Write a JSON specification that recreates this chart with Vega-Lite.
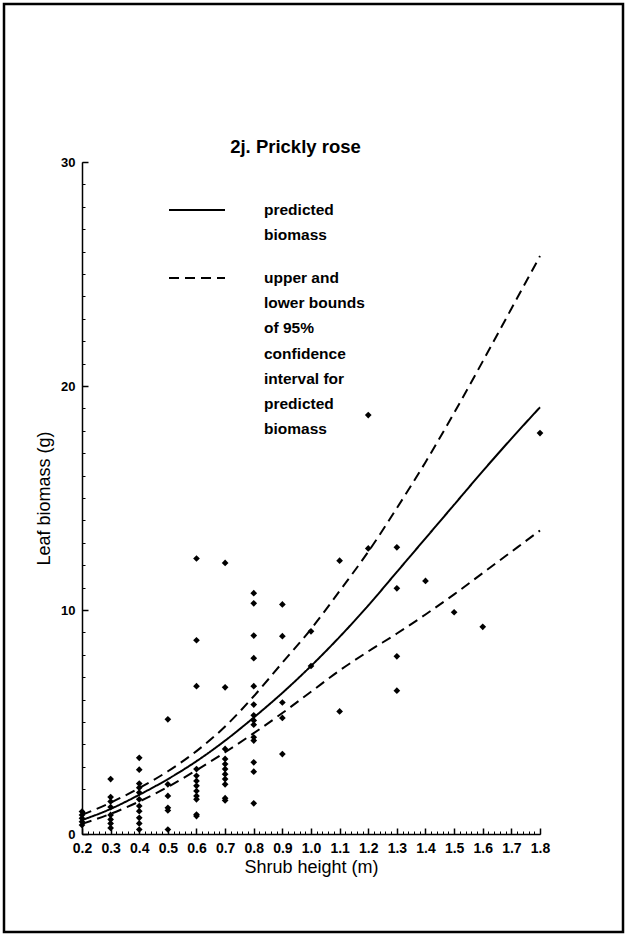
{
  "$schema": "https://vega.github.io/schema/vega-lite/v6.json",
  "width": 619,
  "height": 928,
  "padding": 4,
  "autosize": {"type": "none"},
  "background": "white",
  "view": {"stroke": "black", "strokeWidth": 2.5},
  "title": {"text": "2j. Prickly rose", "font": "Liberation Sans", "fontSize": 18.5, "fontWeight": "bold", "color": "black", "anchor": "middle", "frame": "group", "offset": -167, "baseline": "alphabetic", "dx": -18},
  "datasets": {
    "points": [
      {"height": 0.2, "biomass": 1.0}, {"height": 0.2, "biomass": 0.85}, {"height": 0.2, "biomass": 0.7}, {"height": 0.2, "biomass": 0.55}, {"height": 0.2, "biomass": 0.4},
      {"height": 0.3, "biomass": 2.45}, {"height": 0.3, "biomass": 1.65}, {"height": 0.3, "biomass": 1.45}, {"height": 0.3, "biomass": 1.2}, {"height": 0.3, "biomass": 0.85}, {"height": 0.3, "biomass": 0.65}, {"height": 0.3, "biomass": 0.47}, {"height": 0.3, "biomass": 0.27},
      {"height": 0.4, "biomass": 3.4}, {"height": 0.4, "biomass": 2.87}, {"height": 0.4, "biomass": 2.25}, {"height": 0.4, "biomass": 2.07}, {"height": 0.4, "biomass": 1.85}, {"height": 0.4, "biomass": 1.55}, {"height": 0.4, "biomass": 1.25}, {"height": 0.4, "biomass": 1.02}, {"height": 0.4, "biomass": 0.72}, {"height": 0.4, "biomass": 0.47}, {"height": 0.4, "biomass": 0.2},
      {"height": 0.5, "biomass": 5.12}, {"height": 0.5, "biomass": 2.22}, {"height": 0.5, "biomass": 1.7}, {"height": 0.5, "biomass": 1.17}, {"height": 0.5, "biomass": 1.05}, {"height": 0.5, "biomass": 0.2},
      {"height": 0.6, "biomass": 12.3}, {"height": 0.6, "biomass": 8.65}, {"height": 0.6, "biomass": 6.6}, {"height": 0.6, "biomass": 2.9}, {"height": 0.6, "biomass": 2.6}, {"height": 0.6, "biomass": 2.37}, {"height": 0.6, "biomass": 2.15}, {"height": 0.6, "biomass": 1.92}, {"height": 0.6, "biomass": 1.7}, {"height": 0.6, "biomass": 1.55}, {"height": 0.6, "biomass": 0.87}, {"height": 0.6, "biomass": 0.8},
      {"height": 0.7, "biomass": 12.1}, {"height": 0.7, "biomass": 6.55}, {"height": 0.7, "biomass": 3.8}, {"height": 0.7, "biomass": 3.35}, {"height": 0.7, "biomass": 3.12}, {"height": 0.7, "biomass": 2.9}, {"height": 0.7, "biomass": 2.67}, {"height": 0.7, "biomass": 2.45}, {"height": 0.7, "biomass": 2.22}, {"height": 0.7, "biomass": 1.6}, {"height": 0.7, "biomass": 1.5},
      {"height": 0.8, "biomass": 10.75}, {"height": 0.8, "biomass": 10.3}, {"height": 0.8, "biomass": 8.86}, {"height": 0.8, "biomass": 7.85}, {"height": 0.8, "biomass": 6.6}, {"height": 0.8, "biomass": 5.78}, {"height": 0.8, "biomass": 5.3}, {"height": 0.8, "biomass": 5.07}, {"height": 0.8, "biomass": 4.88}, {"height": 0.8, "biomass": 4.32}, {"height": 0.8, "biomass": 4.17}, {"height": 0.8, "biomass": 3.2}, {"height": 0.8, "biomass": 2.78}, {"height": 0.8, "biomass": 1.37},
      {"height": 0.9, "biomass": 10.25}, {"height": 0.9, "biomass": 8.83}, {"height": 0.9, "biomass": 5.87}, {"height": 0.9, "biomass": 5.18}, {"height": 0.9, "biomass": 3.57},
      {"height": 1.0, "biomass": 9.05}, {"height": 1.0, "biomass": 7.5},
      {"height": 1.1, "biomass": 12.2}, {"height": 1.1, "biomass": 5.47},
      {"height": 1.2, "biomass": 18.7}, {"height": 1.2, "biomass": 12.75},
      {"height": 1.3, "biomass": 12.8}, {"height": 1.3, "biomass": 10.97}, {"height": 1.3, "biomass": 7.93}, {"height": 1.3, "biomass": 6.4},
      {"height": 1.4, "biomass": 11.3},
      {"height": 1.5, "biomass": 9.9},
      {"height": 1.6, "biomass": 9.25},
      {"height": 1.8, "biomass": 17.9}
    ],
    "curves": [
      {"curve": "predicted", "series": "predicted", "height": 0.2, "biomass": 0.62},
      {"curve": "predicted", "series": "predicted", "height": 0.3, "biomass": 1.12},
      {"curve": "predicted", "series": "predicted", "height": 0.4, "biomass": 1.75},
      {"curve": "predicted", "series": "predicted", "height": 0.5, "biomass": 2.45},
      {"curve": "predicted", "series": "predicted", "height": 0.6, "biomass": 3.25},
      {"curve": "predicted", "series": "predicted", "height": 0.7, "biomass": 4.17},
      {"curve": "predicted", "series": "predicted", "height": 0.8, "biomass": 5.2},
      {"curve": "predicted", "series": "predicted", "height": 0.9, "biomass": 6.3},
      {"curve": "predicted", "series": "predicted", "height": 1.0, "biomass": 7.5},
      {"curve": "predicted", "series": "predicted", "height": 1.1, "biomass": 8.8},
      {"curve": "predicted", "series": "predicted", "height": 1.2, "biomass": 10.2},
      {"curve": "predicted", "series": "predicted", "height": 1.3, "biomass": 11.7},
      {"curve": "predicted", "series": "predicted", "height": 1.4, "biomass": 13.2},
      {"curve": "predicted", "series": "predicted", "height": 1.5, "biomass": 14.7},
      {"curve": "predicted", "series": "predicted", "height": 1.6, "biomass": 16.2},
      {"curve": "predicted", "series": "predicted", "height": 1.7, "biomass": 17.65},
      {"curve": "predicted", "series": "predicted", "height": 1.8, "biomass": 19.05},
      {"curve": "upper", "series": "ci", "height": 0.2, "biomass": 0.85},
      {"curve": "upper", "series": "ci", "height": 0.3, "biomass": 1.4},
      {"curve": "upper", "series": "ci", "height": 0.4, "biomass": 2.05},
      {"curve": "upper", "series": "ci", "height": 0.5, "biomass": 2.8},
      {"curve": "upper", "series": "ci", "height": 0.6, "biomass": 3.7},
      {"curve": "upper", "series": "ci", "height": 0.7, "biomass": 4.8},
      {"curve": "upper", "series": "ci", "height": 0.8, "biomass": 6.15},
      {"curve": "upper", "series": "ci", "height": 0.9, "biomass": 7.65},
      {"curve": "upper", "series": "ci", "height": 1.0, "biomass": 9.15},
      {"curve": "upper", "series": "ci", "height": 1.1, "biomass": 10.85},
      {"curve": "upper", "series": "ci", "height": 1.2, "biomass": 12.6},
      {"curve": "upper", "series": "ci", "height": 1.3, "biomass": 14.55},
      {"curve": "upper", "series": "ci", "height": 1.4, "biomass": 16.6},
      {"curve": "upper", "series": "ci", "height": 1.5, "biomass": 18.8},
      {"curve": "upper", "series": "ci", "height": 1.6, "biomass": 21.1},
      {"curve": "upper", "series": "ci", "height": 1.7, "biomass": 23.45},
      {"curve": "upper", "series": "ci", "height": 1.8, "biomass": 25.8},
      {"curve": "lower", "series": "ci", "height": 0.2, "biomass": 0.45},
      {"curve": "lower", "series": "ci", "height": 0.3, "biomass": 0.9},
      {"curve": "lower", "series": "ci", "height": 0.4, "biomass": 1.45},
      {"curve": "lower", "series": "ci", "height": 0.5, "biomass": 2.1},
      {"curve": "lower", "series": "ci", "height": 0.6, "biomass": 2.85},
      {"curve": "lower", "series": "ci", "height": 0.7, "biomass": 3.65},
      {"curve": "lower", "series": "ci", "height": 0.8, "biomass": 4.5},
      {"curve": "lower", "series": "ci", "height": 0.9, "biomass": 5.4},
      {"curve": "lower", "series": "ci", "height": 1.0, "biomass": 6.35},
      {"curve": "lower", "series": "ci", "height": 1.1, "biomass": 7.3},
      {"curve": "lower", "series": "ci", "height": 1.2, "biomass": 8.15},
      {"curve": "lower", "series": "ci", "height": 1.3, "biomass": 8.95},
      {"curve": "lower", "series": "ci", "height": 1.4, "biomass": 9.8},
      {"curve": "lower", "series": "ci", "height": 1.5, "biomass": 10.7},
      {"curve": "lower", "series": "ci", "height": 1.6, "biomass": 11.65},
      {"curve": "lower", "series": "ci", "height": 1.7, "biomass": 12.6},
      {"curve": "lower", "series": "ci", "height": 1.8, "biomass": 13.55}
    ]
  },
  "resolve": {"axis": {"x": "independent", "y": "independent"}},
  "layer": [
    {
      "data": {"name": "points"},
      "mark": {"type": "point", "shape": "diamond", "filled": true, "color": "black", "size": 45, "opacity": 1},
      "encoding": {
        "x": {"field": "height", "type": "quantitative",
          "scale": {"domain": [0.2, 1.8], "range": [78, 536], "nice": false, "zero": false},
          "axis": {"orient": "bottom", "offset": -98, "values": [0.2, 0.3, 0.4, 0.5, 0.6, 0.7, 0.8, 0.9, 1.0, 1.1, 1.2, 1.3, 1.4, 1.5, 1.6, 1.7, 1.8], "format": ".1f",
            "grid": false, "domain": true, "domainColor": "black", "domainWidth": 1.5, "ticks": true, "tickSize": -6, "tickColor": "black", "tickWidth": 1.5,
            "labelFont": "Liberation Sans", "labelFontSize": 14, "labelFontWeight": "bold", "labelColor": "black", "labelPadding": 13, "labelOverlap": false, "labelFlush": false,
            "title": "Shrub height (m)", "titleFont": "Liberation Sans", "titleFontSize": 18, "titleFontWeight": "normal", "titleColor": "black", "titlePadding": 3}},
        "y": {"field": "biomass", "type": "quantitative",
          "scale": {"domain": [0, 30], "range": [830, 158], "nice": false, "zero": false},
          "axis": {"orient": "left", "offset": -78, "values": [0, 10, 20, 30],
            "grid": false, "domain": true, "domainColor": "black", "domainWidth": 1.5, "ticks": true, "tickSize": -6, "tickColor": "black", "tickWidth": 1.5,
            "labelFont": "Liberation Sans", "labelFontSize": 13, "labelFontWeight": "bold", "labelColor": "black", "labelPadding": 13,
            "title": "Leaf biomass (g)", "titleFont": "Liberation Sans", "titleFontSize": 18, "titleFontWeight": "normal", "titleColor": "black", "titlePadding": 7}}
      }
    },
    {
      "data": {"name": "curves"},
      "mark": {"type": "line", "color": "black", "strokeWidth": 2, "interpolate": "monotone"},
      "encoding": {
        "x": {"field": "height", "type": "quantitative",
          "scale": {"domain": [0.2, 1.8], "range": [78, 536], "nice": false, "zero": false},
          "axis": {"orient": "bottom", "offset": -98, "values": [0.2,0.22,0.24,0.26,0.28,0.3,0.32,0.34,0.36,0.38,0.4,0.42,0.44,0.46,0.48,0.5,0.52,0.54,0.56,0.58,0.6,0.62,0.64,0.66,0.68,0.7,0.72,0.74,0.76,0.78,0.8,0.82,0.84,0.86,0.88,0.9,0.92,0.94,0.96,0.98,1.0,1.02,1.04,1.06,1.08,1.1,1.12,1.14,1.16,1.18,1.2,1.22,1.24,1.26,1.28,1.3,1.32,1.34,1.36,1.38,1.4,1.42,1.44,1.46,1.48,1.5,1.52,1.54,1.56,1.58,1.6,1.62,1.64,1.66,1.68,1.7,1.72,1.74,1.76,1.78,1.8],
            "grid": false, "domain": false, "labels": false, "title": null, "ticks": true, "tickSize": -3, "tickColor": "black", "tickWidth": 1}},
        "y": {"field": "biomass", "type": "quantitative",
          "scale": {"domain": [0, 30], "range": [830, 158], "nice": false, "zero": false},
          "axis": {"orient": "left", "offset": -78, "values": [0,1,2,3,4,5,6,7,8,9,10,11,12,13,14,15,16,17,18,19,20,21,22,23,24,25,26,27,28,29,30],
            "grid": false, "domain": false, "labels": false, "title": null, "ticks": true, "tickSize": -3, "tickColor": "black", "tickWidth": 1}},
        "detail": {"field": "curve", "type": "nominal"},
        "strokeDash": {"field": "series", "type": "nominal",
          "scale": {"domain": ["predicted", "ci"], "range": [[1, 0], [10, 6]]},
          "legend": {"orient": "none", "legendX": 164, "legendY": 177, "title": null, "padding": 0,
            "symbolType": "stroke", "symbolSize": 3136, "symbolStrokeWidth": 2, "symbolStrokeColor": "black",
            "labelFont": "Liberation Sans", "labelFontSize": 15.5, "labelFontWeight": "bold", "labelColor": "black", "labelBaseline": "middle",
            "labelOffset": 38, "labelLimit": 400, "rowPadding": 5,
            "encode": {"labels": {"update": {"lineHeight": {"value": 25.2}}}},
            "labelExpr": "datum.value == 'predicted' ? ['predicted', 'biomass'] : ['upper and', 'lower bounds', 'of 95%', 'confidence', 'interval for', 'predicted', 'biomass']"}}
      }
    }
  ]
}
